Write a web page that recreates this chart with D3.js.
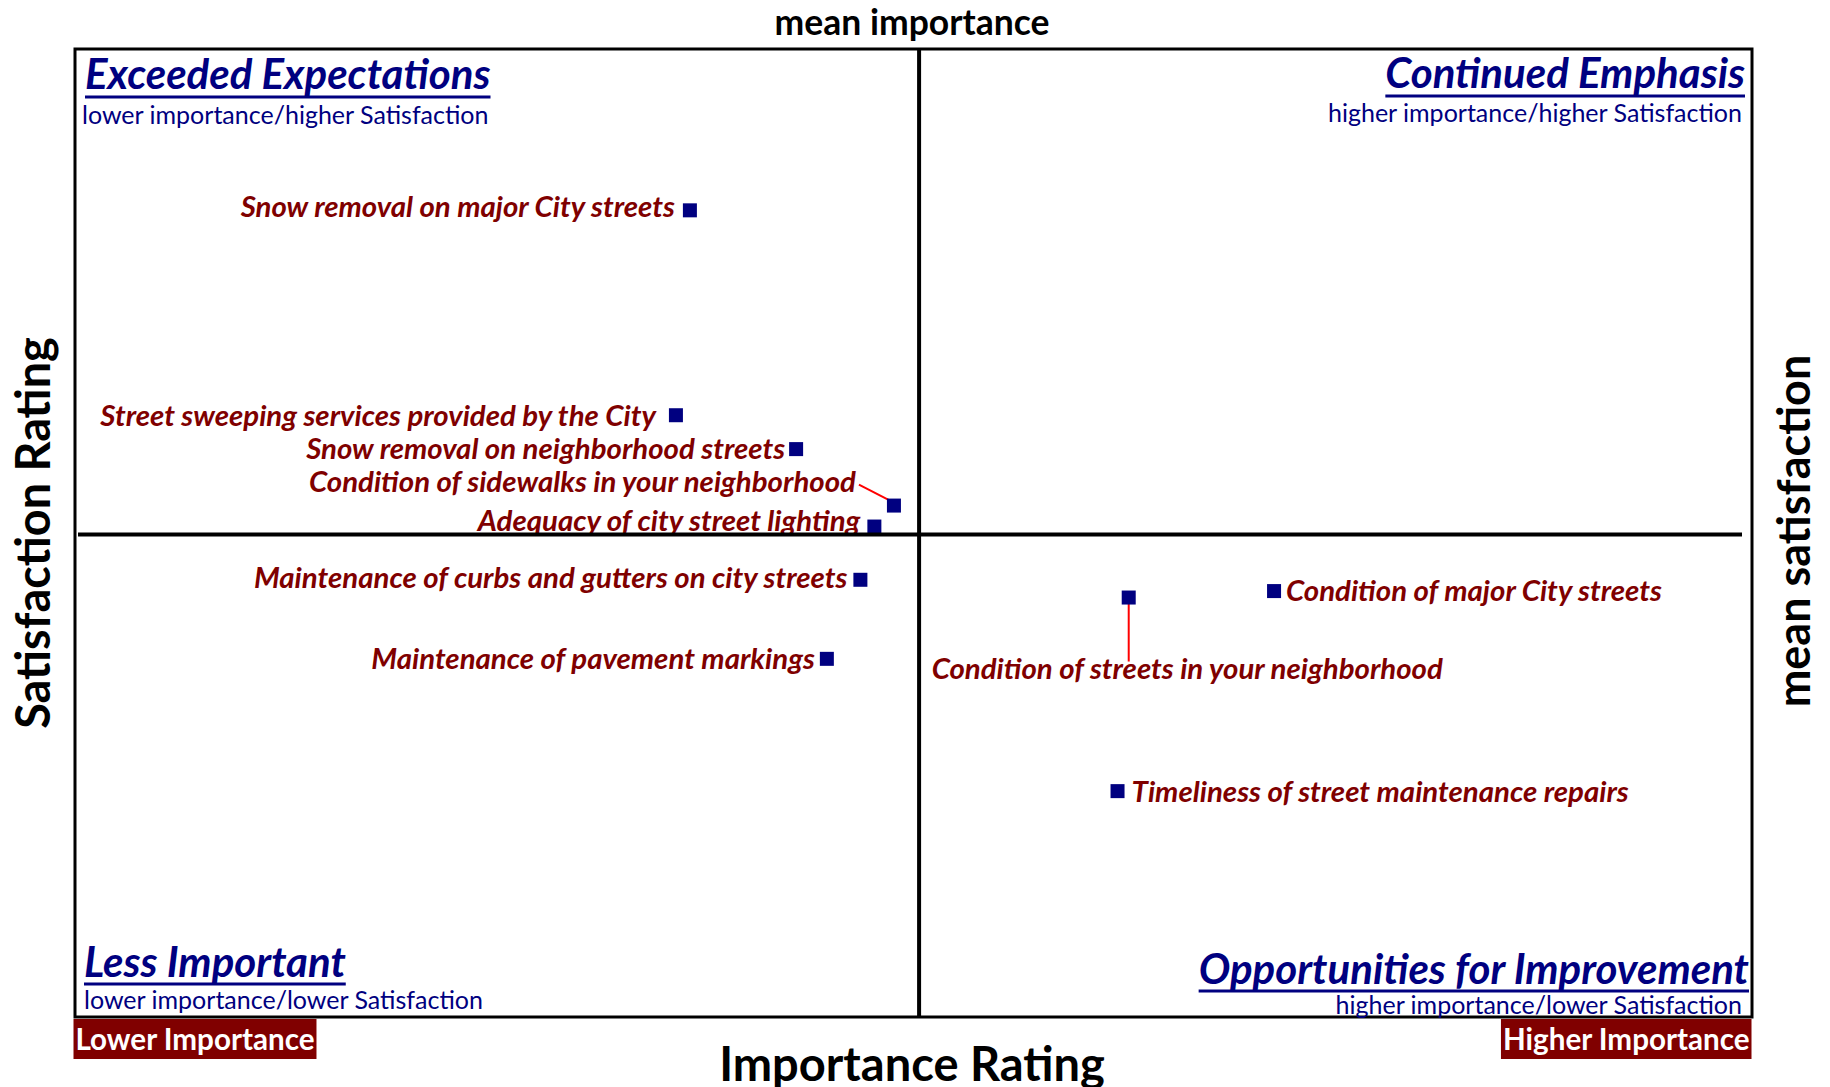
<!DOCTYPE html>
<html>
<head>
<meta charset="utf-8">
<script src="https://cdn.jsdelivr.net/npm/d3@7"></script>
<style>
  body { margin: 0; background: #fff; }
  svg { display: block; }
  text { font-family: Lato, "Open Sans", sans-serif; }
</style>
</head>
<body>
<svg id="chart" width="1830" height="1087"></svg>
<script>
// Street maintenance services: importance (% ranking among top choices) vs satisfaction (%)
const services = [
  "Snow removal on major City streets",
  "Street sweeping services provided by the City",
  "Snow removal on neighborhood streets",
  "Condition of sidewalks in your neighborhood",
  "Adequacy of city street lighting",
  "Maintenance of curbs and gutters on city streets",
  "Maintenance of pavement markings",
  "Condition of streets in your neighborhood",
  "Condition of major City streets",
  "Timeliness of street maintenance repairs"
];
const importance   = [22.0, 21.5, 25.8, 29.3, 28.6, 28.1, 26.9, 37.7, 42.9, 37.3];
const satisfaction = [80.0, 67.3, 65.2, 61.7, 60.4, 57.1, 52.2, 56.0, 56.4, 44.0];
const meanImportance = 30.2;
const meanSatisfaction = 59.9;

const quadrantTitles = ["Exceeded Expectations", "Continued Emphasis", "Less Important", "Opportunities for Improvement"];
const quadrantNotes = [
  "lower importance/higher Satisfaction",
  "higher importance/higher Satisfaction",
  "lower importance/lower Satisfaction",
  "higher importance/lower Satisfaction"
];
const endLabels = ["Lower Importance", "Higher Importance"];
const axisTitles = { x: "Importance Rating", y: "Satisfaction Rating", meanX: "mean importance", meanY: "mean satisfaction" };

// ---- layout ----
const NAVY = "#000080", MAROON = "#7f0000", RED = "#ff0000";
const plot = { left: 75, right: 1752, top: 49, bottom: 1017 };

const x = d3.scaleLinear().domain([0, 60]).range([plot.left, plot.right]);
const y = d3.scaleLinear().domain([30, 90]).range([plot.bottom, plot.top]);

const svg = d3.select("#chart");
const data = services.map((name, i) => ({ name, imp: importance[i], sat: satisfaction[i] }));

// label placement relative to each marker: [dx, dy, anchor, leader]
const placement = [
  [-15, 7, "end"],
  [-20, 11, "end"],
  [-11, 10, "end"],
  [-38, -14, "end", [-35, -21, 0, -3]],
  [-14, 4, "end"],
  [-13, 8, "end"],
  [-12, 10, "end"],
  [-197, 81, "start", [0, 0, 0, 64]],
  [12, 10, "start"],
  [14, 11, "start"]
];

// leader lines
const leaders = svg.append("g");
data.forEach((d, i) => {
  const p = placement[i];
  if (!p[3]) return;
  const cx = x(d.imp), cy = y(d.sat);
  leaders.append("line")
    .attr("x1", cx + p[3][0]).attr("y1", cy + p[3][1])
    .attr("x2", cx + p[3][2]).attr("y2", cy + p[3][3])
    .attr("stroke", RED).attr("stroke-width", 2);
});

// service labels
svg.append("g").selectAll("text").data(data).join("text")
  .attr("x", (d, i) => x(d.imp) + placement[i][0])
  .attr("y", (d, i) => y(d.sat) + placement[i][1])
  .attr("text-anchor", (d, i) => placement[i][2])
  .attr("font-size", 29.4).attr("font-weight", 700).attr("font-style", "italic")
  .attr("fill", MAROON)
  .text(d => d.name);

// markers
const sq = 14;
svg.append("g").selectAll("rect").data(data).join("rect")
  .attr("x", d => x(d.imp) - sq / 2)
  .attr("y", d => y(d.sat) - sq / 2)
  .attr("width", sq).attr("height", sq)
  .attr("fill", NAVY);

// mean lines
svg.append("line")
  .attr("x1", x(meanImportance)).attr("x2", x(meanImportance))
  .attr("y1", plot.top).attr("y2", plot.bottom)
  .attr("stroke", "#000").attr("stroke-width", 4);
svg.append("line")
  .attr("x1", plot.left + 3).attr("x2", plot.right - 10)
  .attr("y1", y(meanSatisfaction)).attr("y2", y(meanSatisfaction))
  .attr("stroke", "#000").attr("stroke-width", 4);

// frame
svg.append("rect")
  .attr("x", plot.left).attr("y", plot.top)
  .attr("width", plot.right - plot.left).attr("height", plot.bottom - plot.top)
  .attr("fill", "none").attr("stroke", "#000").attr("stroke-width", 3);

// quadrant titles with underline, plus notes
const quad = [
  { tx: 85,   ty: 89,  ul: 97,  nx: 82,   ny: 124,  anchor: "start" },
  { tx: 1745, ty: 88,  ul: 96,  nx: 1742, ny: 122,  anchor: "end" },
  { tx: 84,   ty: 977, ul: 984, nx: 84,   ny: 1009, anchor: "start" },
  { tx: 1749, ty: 984, ul: 991, nx: 1742, ny: 1014, anchor: "end" }
];
quad.forEach((q, i) => {
  const t = svg.append("text")
    .attr("x", q.tx).attr("y", q.ty).attr("text-anchor", q.anchor)
    .attr("font-size", 42).attr("font-weight", 700).attr("font-style", "italic")
    .attr("fill", NAVY).text(quadrantTitles[i]);
  const bb = t.node().getBBox();
  svg.append("rect")
    .attr("x", bb.x).attr("y", q.ul - 1.5)
    .attr("width", bb.width).attr("height", 3)
    .attr("fill", NAVY);
  svg.append("text")
    .attr("x", q.nx).attr("y", q.ny).attr("text-anchor", q.anchor)
    .attr("font-size", 25).attr("fill", NAVY).text(quadrantNotes[i]);
});

// end labels below the frame
[[plot.left - 1.5, "start"], [plot.right - 0.5, "end"]].forEach(([ex, anchor], i) => {
  const g = svg.append("g");
  const t = g.append("text")
    .attr("x", anchor === "start" ? ex + 2 : ex - 2).attr("y", 1050)
    .attr("text-anchor", anchor)
    .attr("font-size", 29.6).attr("font-weight", 700).attr("fill", "#fff")
    .text(endLabels[i]);
  const bb = t.node().getBBox();
  g.insert("rect", "text")
    .attr("x", bb.x - 2).attr("y", 1019)
    .attr("width", bb.width + 4).attr("height", 40)
    .attr("fill", "#800000");
});

// axis titles
svg.append("text")
  .attr("x", 912).attr("y", 35).attr("text-anchor", "middle")
  .attr("font-size", 35.5).attr("font-weight", 700).attr("fill", "#000")
  .text(axisTitles.meanX);
svg.append("text")
  .attr("x", 912).attr("y", 1081).attr("text-anchor", "middle")
  .attr("font-size", 47).attr("font-weight", 700).attr("fill", "#000")
  .text(axisTitles.x);
svg.append("text")
  .attr("transform", "translate(50,533) rotate(-90)")
  .attr("text-anchor", "middle")
  .attr("font-size", 46.8).attr("font-weight", 700).attr("fill", "#000")
  .text(axisTitles.y);
svg.append("text")
  .attr("transform", "translate(1810,531) rotate(-90)")
  .attr("text-anchor", "middle")
  .attr("font-size", 45).attr("font-weight", 700).attr("fill", "#000")
  .text(axisTitles.meanY);
</script>
</body>
</html>
